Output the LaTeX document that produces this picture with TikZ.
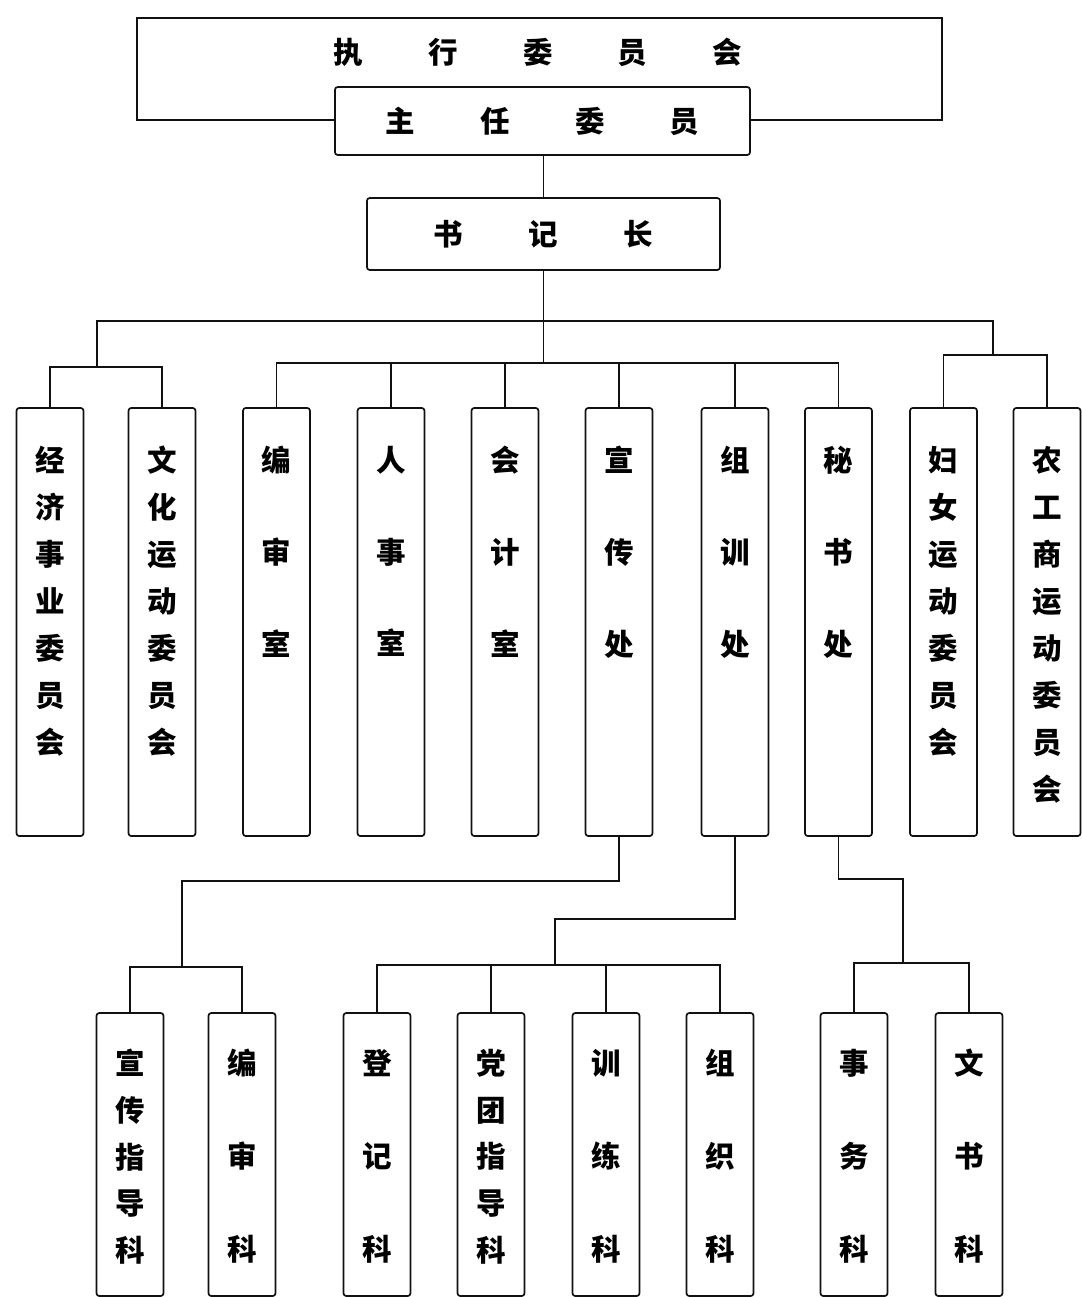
\documentclass[tikz,border=0pt]{standalone}
\usepackage{fontspec}
\usepackage{tikz}
\usetikzlibrary{positioning}
\newfontfamily\cjk{Noto Sans CJK SC}
\definecolor{orgInk}{HTML}{111111}
\newcommand{\csp}{\hspace{1.63cm}}
\tikzset{
    orgBoxBase/.style={
        rectangle,
        draw=orgInk,
        line width=1.2pt,
        rounded corners=2pt,
        fill=white,
        inner sep=0pt,
        font=\cjk\bfseries\fontsize{21}{25}\selectfont
    },
    % Boxes
    headBox/.style={orgBoxBase},
    upperCol/.style={orgBoxBase, minimum width=1.675cm, minimum height=10.7cm},
    lowerCol/.style={orgBoxBase, minimum width=1.675cm, minimum height=7.075cm},
    % Texts
    orgTitle/.style={font=\cjk\bfseries\fontsize{21}{25}\selectfont, inner sep=0pt},
    orgColText/.style={
        font=\cjk\bfseries\fontsize{21}{#1}\selectfont,
        align=center,
        anchor=north,
        inner sep=0pt
    },
    % Lines
    orgLink/.style={draw=orgInk, line width=1.2pt}
}

\begin{document}
\begin{tikzpicture}[x=0.025cm, y=-0.025cm]
    \useasboundingbox (0,0) rectangle (1081,1297);
    % leading bodies
    \node[orgBoxBase, rounded corners=0pt, minimum width=20.125cm, minimum height=2.55cm] (exec) at (539.5,69) {};
    \node[orgTitle] (execText) at (538,52) {执\csp 行\csp 委\csp 员\csp 会};
    \node[headBox, minimum width=10.375cm, minimum height=1.7cm] (chair) at (542.5,121) {主\csp 任\csp 委\csp 员};
    \node[headBox, minimum width=8.825cm, minimum height=1.8cm] (shuji) at (543.5,234) {书\csp 记\csp 长};
    % departments
    \foreach \i/\x/\word/\lead in {
        1/50/{经\\济\\事\\业\\委\\员\\会}/33.4,
        2/162/{文\\化\\运\\动\\委\\员\\会}/33.4,
        3/276.5/{编\\审\\室}/65.2,
        4/391/{人\\事\\室}/65.2,
        5/505/{会\\计\\室}/65.2,
        6/619/{宣\\传\\处}/65.2,
        7/735/{组\\训\\处}/65.2,
        8/838.5/{秘\\书\\处}/65.2,
        9/943.5/{妇\\女\\运\\动\\委\\员\\会}/33.4,
        10/1047/{农\\工\\商\\运\\动\\委\\员\\会}/33.4} {
        \node[upperCol] (u\i) at (\x,622) {};
        \node[orgColText=\lead] (u\i text) at (\x,446) {\word};
    }
    % sections
    \foreach \i/\x/\word/\lead in {
        1/130/{宣\\传\\指\\导\\科}/33.2,
        2/242/{编\\审\\科}/66,
        3/377/{登\\记\\科}/66,
        4/491/{党\\团\\指\\导\\科}/33.2,
        5/606/{训\\练\\科}/66,
        6/720/{组\\织\\科}/66,
        7/854/{事\\务\\科}/66,
        8/969/{文\\书\\科}/66} {
        \node[lowerCol] (l\i) at (\x,1154.5) {};
        \node[orgColText=\lead] (l\i text) at (\x,1049) {\word};
    }
    % links
    \coordinate[below=1.25cm of shuji.south] (topBus);
    \coordinate[below=2.3cm of shuji.south] (midBus);
    \coordinate (leftBus) at (97,367);
    \coordinate (rightBus) at (993,355);
    \draw[orgLink] (shuji.north |- chair.south) -- (shuji.north);
    \draw[orgLink] (shuji.south) -- (midBus);
    \draw[orgLink] (leftBus) |- (topBus) -| (rightBus);
    \foreach \i in {1,2} \draw[orgLink] (leftBus) -| (u\i.north);
    \foreach \i in {3,...,8} \draw[orgLink] (midBus) -| (u\i.north);
    \foreach \i in {9,10} \draw[orgLink] (rightBus) -| (u\i.north);
    \coordinate (propTurn) at (182,881);
    \coordinate (propBus) at (182,967);
    \coordinate (trainTurn) at (555,919);
    \coordinate (trainBus) at (555,965);
    \coordinate (secTurn) at (903,879);
    \coordinate (secBus) at (903,963);
    \draw[orgLink] (u6.south) |- (propTurn) -- (propBus);
    \draw[orgLink] (u7.south) |- (trainTurn) -- (trainBus);
    \draw[orgLink] (u8.south) |- (secTurn) -- (secBus);
    \foreach \i in {1,2} \draw[orgLink] (propBus) -| (l\i.north);
    \foreach \i in {3,...,6} \draw[orgLink] (trainBus) -| (l\i.north);
    \foreach \i in {7,8} \draw[orgLink] (secBus) -| (l\i.north);
\end{tikzpicture}
\end{document}
